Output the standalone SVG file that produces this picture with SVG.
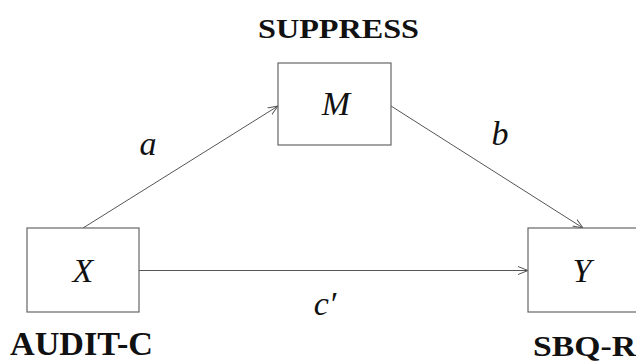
<svg xmlns="http://www.w3.org/2000/svg" width="636" height="363" viewBox="0 0 636 363">
<defs>
<style>
.box{fill:#fff;stroke:#666;stroke-width:1.2}
.edge{fill:none;stroke:#555;stroke-width:1}
.math{font-family:"Liberation Serif",serif;font-style:italic;font-size:34px;fill:#111;text-anchor:middle}
.lbl{font-family:"Liberation Serif",serif;font-weight:bold;fill:#111}
</style>
<marker id="arr" viewBox="0 0 10 10" refX="10" refY="5" markerWidth="10" markerHeight="10" markerUnits="userSpaceOnUse" orient="auto">
<path d="M0,1 L10,5 L0,9" fill="none" stroke="#555" stroke-width="1"/>
</marker>
</defs>
<rect width="636" height="363" fill="#fff"/>
<g id="connectors">
<line class="edge" x1="83" y1="228" x2="278" y2="106" marker-end="url(#arr)"/>
<line class="edge" x1="391" y1="106" x2="583" y2="228" marker-end="url(#arr)"/>
<line class="edge" x1="139" y1="270.5" x2="528" y2="270.5" marker-end="url(#arr)"/>
<text class="math" x="148" y="155">a</text>
<text class="math" x="500" y="145">b</text>
<text class="math" x="325" y="315" font-size="31">c′</text>
</g>
<g id="M">
<rect class="box" x="278" y="63" width="113" height="82"/>
<text class="math" x="336" y="115">M</text>
<text class="lbl" x="258" y="38" font-size="28" textLength="161" lengthAdjust="spacingAndGlyphs">SUPPRESS</text>
</g>
<g id="X">
<rect class="box" x="27" y="228" width="112" height="84"/>
<text class="math" x="83" y="282">X</text>
<text class="lbl" x="10" y="355" font-size="34" textLength="143" lengthAdjust="spacingAndGlyphs">AUDIT-C</text>
</g>
<g id="Y">
<rect class="box" x="528" y="228" width="112" height="84"/>
<text class="math" x="582" y="282">Y</text>
<text class="lbl" x="533" y="356" font-size="29" textLength="103" lengthAdjust="spacingAndGlyphs">SBQ-R</text>
</g>
</svg>
